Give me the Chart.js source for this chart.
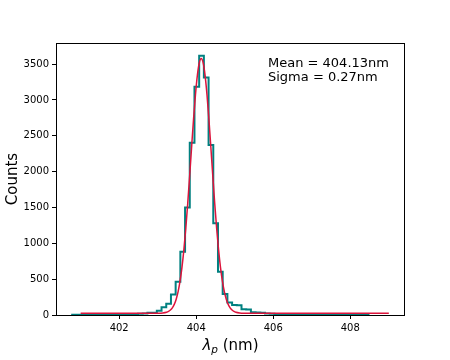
<!DOCTYPE html>
<html lang="en">
<head>
<meta charset="UTF-8">
<title>Peak wavelength histogram</title>
<script src="https://cdn.jsdelivr.net/npm/chart.js"></script>
<style>
  body { margin: 0; background: #fff; }
  canvas { display: block; }
</style>
</head>
<body>
<canvas id="histChart" width="450" height="360"></canvas>
<script>
  // histogram bins (nm) and counts
  const binStart = 400.78;
  const binWidth = 0.1221;
  const counts = [2, 3, 3, 4, 5, 5, 6, 7, 8, 9, 10, 11, 12, 14, 16, 20,
    30, 33, 60, 107, 158, 285, 464, 883, 1500, 2403, 3184, 3616, 3315, 2371,
    1279, 604, 293, 175, 140, 135, 80, 75, 40, 35, 30,
    20, 18, 15, 14, 12, 11, 10, 9, 8, 8, 7, 6, 6, 5, 5, 4, 4, 3, 3, 3, 2, 2];

  // gaussian fit curve
  const fitX = [401.0, 402.5, 403.03, 403.13, 403.23, 403.28, 403.33, 403.38, 403.43, 403.48,
    403.53, 403.58, 403.63, 403.68, 403.73, 403.78, 403.83, 403.88, 403.93, 403.98,
    404.03, 404.08, 404.13, 404.18, 404.23, 404.28, 404.33, 404.38, 404.43, 404.48,
    404.53, 404.58, 404.63, 404.68, 404.73, 404.78, 404.83, 404.88, 404.93, 404.98,
    405.03, 405.13, 405.23, 406.0, 409.0];
  const fitY = [25, 25, 26, 29, 39, 50, 69, 100, 148, 221,
    326, 472, 665, 912, 1211, 1559, 1943, 2341, 2727, 3072,
    3344, 3520, 3580, 3520, 3344, 3072, 2727, 2341, 1943, 1559,
    1211, 912, 665, 472, 326, 221, 148, 100, 69, 50,
    39, 29, 26, 25, 25];

  const xTicks = [402, 404, 406, 408];
  const yTicks = [0, 500, 1000, 1500, 2000, 2500, 3000, 3500];
  const fitText = ['Mean = 404.13nm', 'Sigma = 0.27nm'];

  const histPoints = [{ x: binStart, y: 0 }];
  counts.forEach((c, i) => histPoints.push({ x: binStart + i * binWidth, y: c }));
  histPoints.push({ x: binStart + counts.length * binWidth, y: 0 });

  const fitPoints = fitX.map((x, i) => ({ x: x, y: fitY[i] }));

  const extras = {
    id: 'extras',
    afterDraw(chart) {
      const { ctx, chartArea: a } = chart;
      ctx.save();
      ctx.strokeStyle = '#000';
      ctx.lineWidth = 1;
      ctx.strokeRect(Math.round(a.left) + 0.5, Math.round(a.top) + 0.5,
        Math.round(a.right - a.left) - 1, Math.round(a.bottom - a.top));

      ctx.fillStyle = '#000';
      ctx.font = '13px "DejaVu Sans"';
      ctx.textBaseline = 'alphabetic';
      ctx.fillText(fitText[0], 268, 67);
      ctx.fillText(fitText[1], 268, 81);

      // y label
      ctx.save();
      ctx.translate(13, (a.top + a.bottom) / 2);
      ctx.rotate(-Math.PI / 2);
      ctx.font = '15px "DejaVu Sans"';
      ctx.textAlign = 'center';
      ctx.textBaseline = 'middle';
      ctx.fillText('Counts', 0, 0);
      ctx.restore();

      // x label with subscript
      const big = 'italic 15px "DejaVu Sans"';
      const sub = 'italic 10.5px "DejaVu Sans"';
      const norm = '15px "DejaVu Sans"';
      ctx.font = big; const w1 = ctx.measureText('λ').width;
      ctx.font = sub; const w2 = ctx.measureText('p').width;
      ctx.font = norm; const w3 = ctx.measureText(' (nm)').width;
      let x = (a.left + a.right) / 2 - (w1 + w2 + w3) / 2;
      const base = 350;
      ctx.textAlign = 'left';
      ctx.font = big; ctx.fillText('λ', x, base); x += w1;
      ctx.font = sub; ctx.fillText('p', x, base + 3); x += w2;
      ctx.font = norm; ctx.fillText(' (nm)', x, base);
      ctx.restore();
    }
  };

  new Chart(document.getElementById('histChart'), {
    type: 'line',
    data: {
      datasets: [
        {
          label: 'fit',
          data: fitPoints,
          borderColor: 'crimson',
          borderWidth: 1.5,
          pointRadius: 0,
          cubicInterpolationMode: 'monotone',
          order: 0
        },
        {
          label: 'hist',
          data: histPoints,
          borderColor: '#008080',
          borderWidth: 2,
          pointRadius: 0,
          stepped: 'before',
          order: 1
        }
      ]
    },
    options: {
      responsive: false,
      animation: false,
      layout: { padding: { left: 0, top: 43, right: 45, bottom: 0 } },
      plugins: { legend: { display: false }, tooltip: { enabled: false } },
      scales: {
        x: {
          type: 'linear',
          min: 400.36,
          max: 409.42,
          afterBuildTicks: s => { s.ticks = xTicks.map(v => ({ value: v })); },
          afterFit: s => { s.height = 45; },
          grid: { drawOnChartArea: false, drawTicks: true, tickLength: 4, color: '#000' },
          border: { display: false },
          ticks: { color: '#000', padding: 3, maxRotation: 0, callback: v => String(v),
            font: { family: 'DejaVu Sans', size: 10 } }
        },
        y: {
          min: 0,
          max: 3795,
          afterBuildTicks: s => { s.ticks = yTicks.map(v => ({ value: v })); },
          afterFit: s => { s.width = 56; },
          grid: { drawOnChartArea: false, drawTicks: true, tickLength: 4, color: '#000' },
          border: { display: false },
          ticks: { color: '#000', padding: 3, callback: v => String(v),
            font: { family: 'DejaVu Sans', size: 10 } }
        }
      }
    },
    plugins: [extras]
  });
</script>
</body>
</html>
